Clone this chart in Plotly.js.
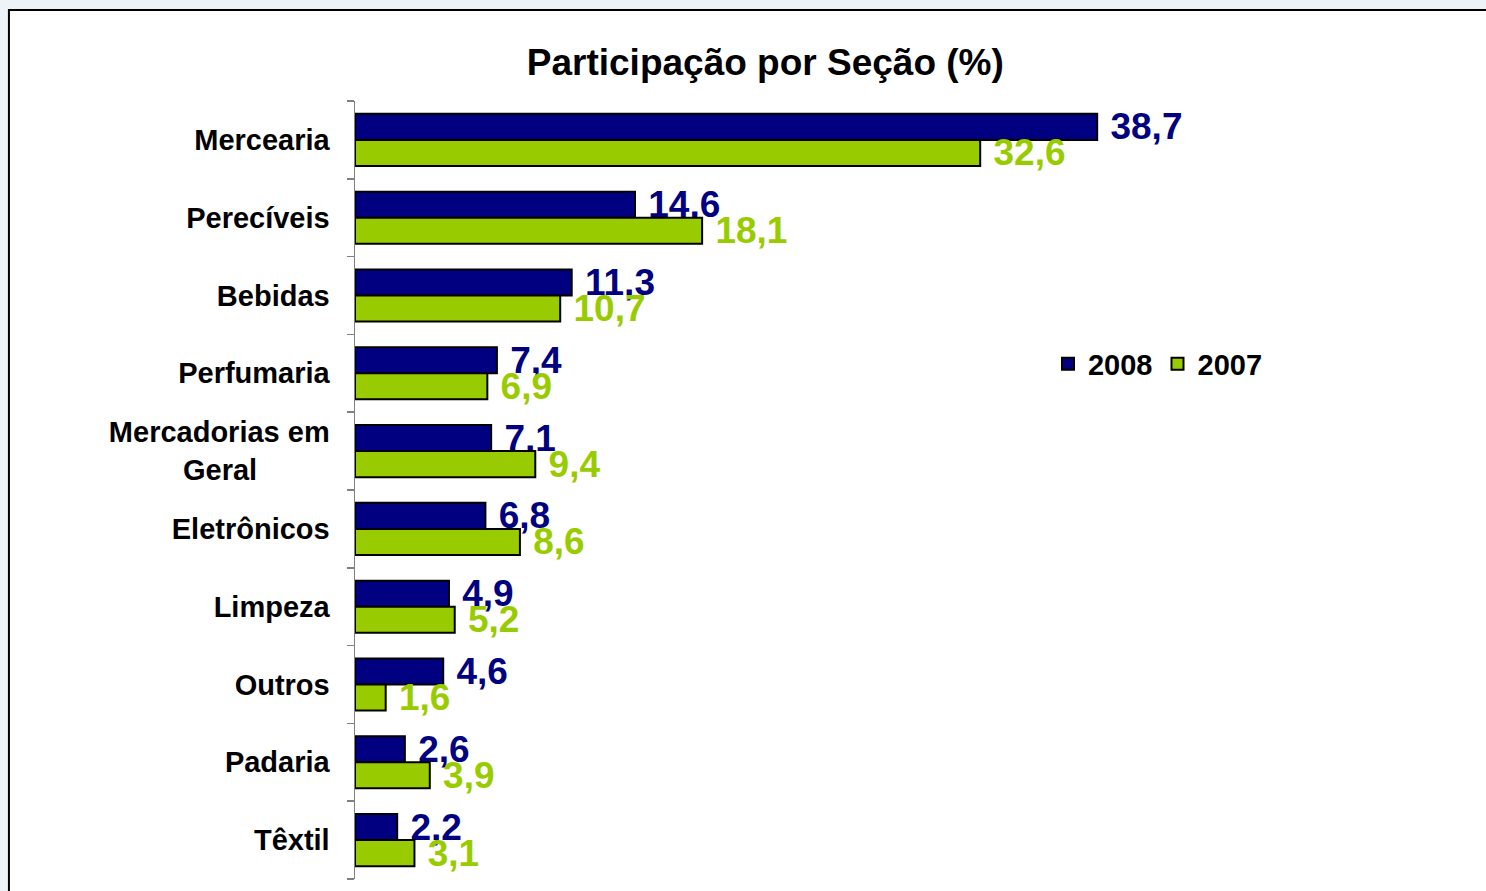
<!DOCTYPE html>
<html>
<head>
<meta charset="utf-8">
<script src="https://cdn.plot.ly/plotly-3.0.1.min.js"></script>
<style>
    html, body { margin: 0; padding: 0; background: #eef3f7; }
    #chart { width: 1486px; height: 891px; }
</style>
</head>
<body>
<div id="chart"></div>
<script>
// categories, top to bottom
const categories = ['Mercearia', 'Perecíveis', 'Bebidas', 'Perfumaria', 'Mercadorias em Geral',
    'Eletrônicos', 'Limpeza', 'Outros', 'Padaria', 'Têxtil'];
const tickLabels = ['Mercearia', 'Perecíveis', 'Bebidas', 'Perfumaria',
    'Mercadorias em<br>Geral\u00a0\u00a0\u00a0\u00a0\u00a0\u00a0\u00a0\u00a0\u00a0',
    'Eletrônicos', 'Limpeza', 'Outros', 'Padaria', 'Têxtil'];
const values2008 = [38.7, 14.6, 11.3, 7.4, 7.1, 6.8, 4.9, 4.6, 2.6, 2.2];
const values2007 = [32.6, 18.1, 10.7, 6.9, 9.4, 8.6, 5.2, 1.6, 3.9, 3.1];

const navy = '#000080';
const green = '#99cc00';
const fontFamily = '"Liberation Sans", Arial, sans-serif';

function makeTrace(name, values, color) {
    return {
        type: 'bar',
        orientation: 'h',
        name: name,
        y: categories,
        x: values,
        marker: { color: color, line: { color: '#000000', width: 2 } },
        texttemplate: '\u00a0%{x:.1f}',
        textposition: 'outside',
        constraintext: 'none',
        cliponaxis: false,
        textfont: { family: fontFamily, size: 37, weight: 700, color: color },
        hoverinfo: 'skip'
    };
}

const traces = [
    makeTrace('2008', values2008, navy),
    makeTrace('2007', values2007, green)
];

const layout = {
    width: 1486,
    height: 891,
    margin: { l: 355, r: 268, t: 101, b: 12 },
    paper_bgcolor: '#eef3f7',
    plot_bgcolor: 'rgba(0,0,0,0)',
    separators: ',.',
    barmode: 'group',
    bargap: 0.33,
    bargroupgap: 0,
    font: { family: fontFamily, color: '#000000' },
    title: {
        text: 'Participação por Seção (%)',
        font: { family: fontFamily, size: 37, weight: 700, color: '#000000' },
        xref: 'container',
        x: 0.515,
        xanchor: 'center',
        yref: 'container',
        y: 0.93,
        yanchor: 'middle'
    },
    xaxis: {
        range: [0, 45],
        visible: false,
        showgrid: false,
        zeroline: false
    },
    yaxis: {
        type: 'category',
        autorange: 'reversed',
        tickmode: 'array',
        tickvals: categories,
        ticktext: tickLabels,
        tickson: 'boundaries',
        ticks: 'outside',
        ticklen: 7,
        tickwidth: 1.5,
        tickcolor: '#808080',
        showline: true,
        linecolor: '#808080',
        linewidth: 1.5,
        showgrid: false,
        ticklabelstandoff: 18,
        tickfont: { family: fontFamily, size: 29, weight: 700, color: '#000000' }
    },
    legend: {
        orientation: 'h',
        x: 0.803,
        xanchor: 'left',
        y: 0.662,
        yanchor: 'middle',
        bgcolor: 'rgba(0,0,0,0)',
        itemwidth: 30,
        font: { family: fontFamily, size: 29, weight: 700, color: '#000000' }
    },
    shapes: [{
        type: 'rect',
        xref: 'paper',
        yref: 'paper',
        x0: -0.401,
        x1: 1.32,
        y0: -0.03,
        y1: 1.117,
        layer: 'below',
        fillcolor: '#ffffff',
        line: { color: '#000000', width: 2 }
    }]
};

Plotly.newPlot('chart', traces, layout, { displayModeBar: false, staticPlot: true });
</script>
</body>
</html>
